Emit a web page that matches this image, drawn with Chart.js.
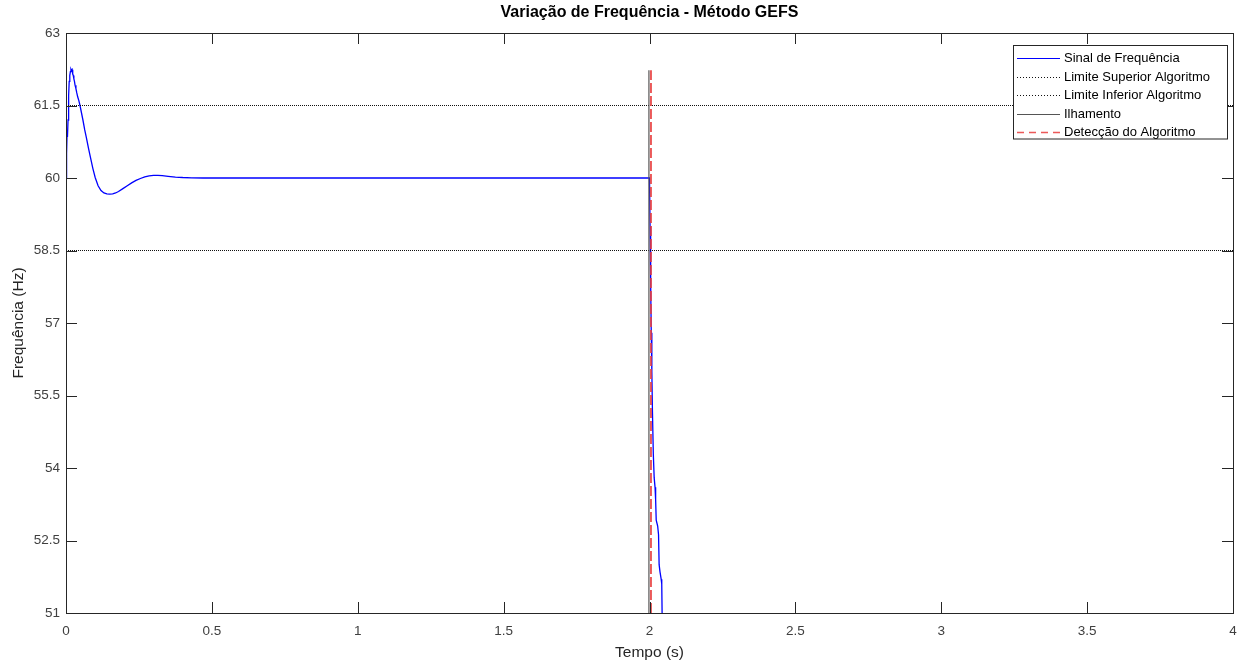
<!DOCTYPE html>
<html lang="pt">
<head>
<meta charset="utf-8">
<title>Variação de Frequência - Método GEFS</title>
<script src="https://cdn.jsdelivr.net/npm/chart.js@4/dist/chart.umd.min.js"></script>
<style>
  html, body { margin: 0; padding: 0; background: #fff; }
  #wrap { width: 1248px; height: 668px; position: relative; }
</style>
</head>
<body>
<div id="wrap"><canvas id="freq"></canvas></div>
<script>
// Frequency signal (time in s, frequency in Hz)
const SIGNAL_T = [
  0, 0.002, 0.004, 0.005, 0.007, 0.009, 0.011, 0.013, 0.015, 0.017, 0.019,
  0.021, 0.023, 0.025, 0.027, 0.029, 0.031, 0.034, 0.037, 0.040, 0.044, 0.048,
  0.053, 0.058, 0.064, 0.070, 0.077, 0.084, 0.092, 0.100, 0.110, 0.120, 0.130,
  0.140, 0.150, 0.160, 0.170, 0.180, 0.195, 0.210, 0.225, 0.240, 0.255, 0.270,
  0.285, 0.300, 0.315, 0.330, 0.350, 0.375, 0.400, 0.430, 0.470, 0.520,
  2.000, 2.002, 2.004, 2.006, 2.008, 2.010, 2.013, 2.016, 2.019, 2.021, 2.023,
  2.028, 2.031, 2.033, 2.036, 2.040, 2.042, 2.044
];
const SIGNAL_F = [
  60.0, 60.5, 61.0, 60.85, 61.2, 61.7, 62.0, 62.12, 62.2, 62.25, 62.22,
  62.24, 62.15, 62.12, 62.05, 62.0, 61.92, 61.85, 61.76, 61.68, 61.6, 61.5,
  61.35, 61.2, 61.0, 60.83, 60.62, 60.42, 60.2, 60.01, 59.84, 59.74, 59.69,
  59.67, 59.665, 59.67, 59.69, 59.72, 59.78, 59.84, 59.9, 59.95, 59.99, 60.025,
  60.045, 60.055, 60.055, 60.048, 60.035, 60.02, 60.01, 60.003, 60.0, 60.0,
  60.0, 59.0, 57.8, 56.8, 56.0, 55.2, 54.3, 53.8, 53.6, 53.35, 52.92,
  52.8, 52.62, 52.0, 51.85, 51.7, 51.6, 50.6
];

// Algorithm thresholds
const LIMIT_UPPER = 61.5;
const LIMIT_LOWER = 58.5;
const T_START = 0;
const T_END = 4;

// Islanding instant and algorithm detection instant
const T_ISLANDING = 1.998;
const T_DETECTION = 2.005;
const VLINE_BOTTOM = 51;
const VLINE_TOP = 62.23;

const X_TICKS = [0, 0.5, 1, 1.5, 2, 2.5, 3, 3.5, 4];
const Y_TICKS = [51, 52.5, 54, 55.5, 57, 58.5, 60, 61.5, 63];

(function () {
  'use strict';

  var FONT = "'Liberation Sans', Arial, Helvetica, sans-serif";
  var TICK_COLOR = '#404040';
  var TICK_LEN = 11;

  function xy(xs, ys) {
    return xs.map(function (x, i) { return { x: x, y: ys[i] }; });
  }

  var datasets = [
    {
      label: 'Sinal de Frequência',
      data: xy(SIGNAL_T, SIGNAL_F),
      borderColor: '#0000ff',
      borderWidth: 1.3,
      order: 5
    },
    {
      label: 'Limite Superior Algoritmo',
      data: xy([T_START, T_END], [LIMIT_UPPER, LIMIT_UPPER]),
      borderColor: '#111',
      borderWidth: 1,
      borderDash: [1, 1],
      order: 4
    },
    {
      label: 'Limite Inferior Algoritmo',
      data: xy([T_START, T_END], [LIMIT_LOWER, LIMIT_LOWER]),
      borderColor: '#111',
      borderWidth: 1,
      borderDash: [1, 1],
      order: 3
    },
    {
      label: 'Ilhamento',
      data: xy([T_ISLANDING, T_ISLANDING], [VLINE_BOTTOM, VLINE_TOP]),
      borderColor: '#555',
      borderWidth: 1.2,
      order: 2
    },
    {
      label: 'Detecção do Algoritmo',
      data: xy([T_DETECTION, T_DETECTION], [VLINE_BOTTOM, VLINE_TOP]),
      borderColor: 'rgba(232,60,60,0.85)',
      borderWidth: 2,
      borderDash: [10, 3],
      order: 1
    }
  ];

  datasets.forEach(function (d) {
    d.pointRadius = 0;
    d.fill = false;
    d.tension = 0;
  });

  // MATLAB-like box with inward ticks on all four sides
  var boxPlugin = {
    id: 'boxTicks',
    afterDatasetsDraw: function (chart) {
      var ctx = chart.ctx;
      var a = chart.chartArea;
      var xs = chart.scales.x;
      var ys = chart.scales.y;
      ctx.save();
      ctx.strokeStyle = '#262626';
      ctx.lineWidth = 1;
      ctx.beginPath();
      X_TICKS.forEach(function (v) {
        var px = Math.round(xs.getPixelForValue(v)) + 0.5;
        ctx.moveTo(px, a.bottom); ctx.lineTo(px, a.bottom - TICK_LEN);
        ctx.moveTo(px, a.top); ctx.lineTo(px, a.top + TICK_LEN);
      });
      Y_TICKS.forEach(function (v) {
        var py = Math.round(ys.getPixelForValue(v)) + 0.5;
        ctx.moveTo(a.left, py); ctx.lineTo(a.left + TICK_LEN, py);
        ctx.moveTo(a.right, py); ctx.lineTo(a.right - TICK_LEN, py);
      });
      ctx.stroke();
      ctx.strokeRect(Math.round(a.left) + 0.5, Math.round(a.top) + 0.5,
        Math.round(a.right - a.left), Math.round(a.bottom - a.top));
      ctx.restore();
    }
  };

  // title above the plot area, centred on it
  var titlePlugin = {
    id: 'plotTitle',
    afterDraw: function (chart) {
      var ctx = chart.ctx;
      var a = chart.chartArea;
      ctx.save();
      ctx.font = 'bold 16px ' + FONT;
      ctx.fillStyle = '#000';
      ctx.textAlign = 'center';
      ctx.textBaseline = 'middle';
      ctx.fillText('Variação de Frequência - Método GEFS', (a.left + a.right) / 2, 13);
      ctx.restore();
    }
  };

  // boxed legend in the upper right corner
  var legendPlugin = {
    id: 'boxLegend',
    afterDraw: function (chart) {
      var ctx = chart.ctx;
      var a = chart.chartArea;
      var w = 214, rowH = 18.5;
      var x0 = a.right - 6 - w, y0 = 45;
      var h = rowH * datasets.length + 1;
      ctx.save();
      ctx.fillStyle = '#fff';
      ctx.fillRect(x0, y0, w, h);
      ctx.strokeStyle = '#262626';
      ctx.lineWidth = 1;
      ctx.strokeRect(x0 + 0.5, y0 + 0.5, w, h);
      ctx.font = '13px ' + FONT;
      ctx.textBaseline = 'middle';
      chart.data.datasets.forEach(function (d, i) {
        var cy = Math.round(y0 + 13 + i * rowH) + 0.5;
        ctx.strokeStyle = d.borderColor;
        ctx.lineWidth = d.borderWidth > 1.5 ? 1.5 : 1;
        ctx.setLineDash(d.borderDash ? (d.borderDash[0] > 2 ? [7, 5] : [1, 2]) : []);
        ctx.beginPath();
        ctx.moveTo(x0 + 4, cy);
        ctx.lineTo(x0 + 47, cy);
        ctx.stroke();
        ctx.setLineDash([]);
        ctx.fillStyle = '#000';
        ctx.fillText(d.label, x0 + 51, cy);
      });
      ctx.restore();
    }
  };

  var axisTickFont = { family: FONT, size: 13.5 };
  var axisTitleFont = { family: FONT, size: 15.5 };

  new Chart(document.getElementById('freq'), {
    type: 'line',
    data: { datasets: datasets },
    plugins: [boxPlugin, titlePlugin, legendPlugin],
    options: {
      responsive: true,
      maintainAspectRatio: false,
      animation: false,
      events: [],
      layout: { padding: { top: 33, right: 15, left: 0, bottom: 0 } },
      plugins: { legend: { display: false }, tooltip: { enabled: false } },
      scales: {
        x: {
          type: 'linear',
          min: T_START,
          max: T_END,
          afterFit: function (s) { s.height = 55; },
          afterBuildTicks: function (s) {
            s.ticks = X_TICKS.map(function (v) { return { value: v }; });
          },
          grid: { display: false, drawTicks: false },
          border: { display: false },
          ticks: {
            font: axisTickFont,
            color: TICK_COLOR,
            padding: 10,
            maxRotation: 0,
            callback: function (v) { return String(v); }
          },
          title: {
            display: true,
            text: 'Tempo (s)',
            font: axisTitleFont,
            color: '#262626',
            padding: { top: 0, bottom: 6 }
          }
        },
        y: {
          type: 'linear',
          min: 51,
          max: 63,
          afterFit: function (s) { s.width = 66; },
          afterBuildTicks: function (s) {
            s.ticks = Y_TICKS.map(function (v) { return { value: v }; });
          },
          grid: { display: false, drawTicks: false },
          border: { display: false },
          ticks: {
            font: axisTickFont,
            color: TICK_COLOR,
            padding: 6,
            callback: function (v) { return String(v); }
          },
          title: {
            display: true,
            text: 'Frequência (Hz)',
            font: axisTitleFont,
            color: '#262626',
            padding: { top: 9, bottom: 0 }
          }
        }
      }
    }
  });
})();
</script>
</body>
</html>
